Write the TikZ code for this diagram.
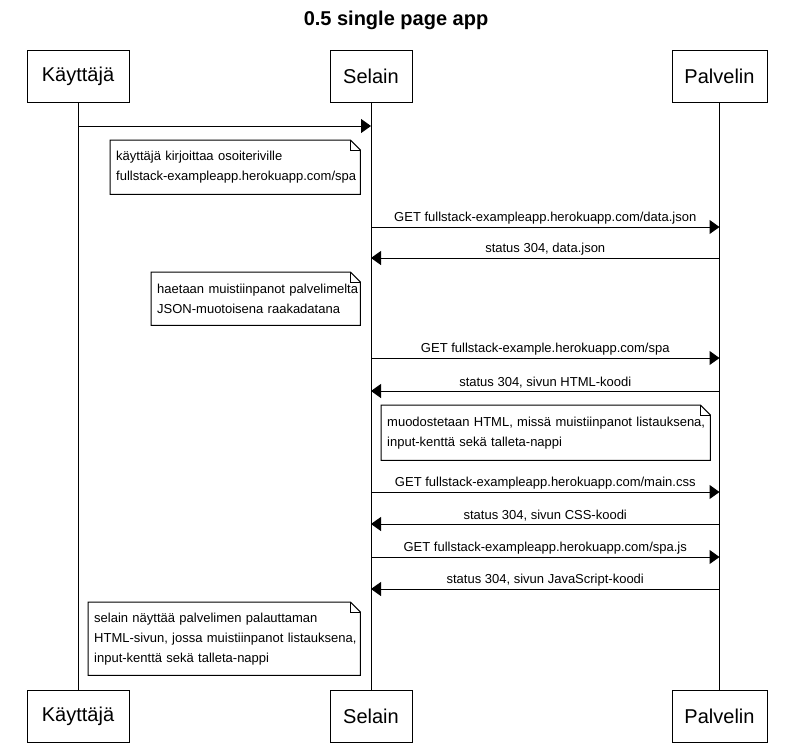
\documentclass[tikz,border=0pt]{standalone}
\usepackage{fontspec}
\setmainfont{Liberation Sans}
\usetikzlibrary{arrows.meta,positioning}

\begin{document}
\begin{tikzpicture}[
  x=1pt, y=-1pt,
  actor/.style={draw, line width=1pt, minimum height=52pt, inner sep=0pt, font=\fontsize{20}{24}\selectfont},
  note/.style={anchor=north west, align=left, inner xsep=6pt, inner ysep=0pt, font=\fontsize{13}{20}\selectfont},
  fold/.style={line width=1pt},
  msg/.style={-{Triangle[length=10pt,width=14pt]}, line width=1pt},
  lbl/.style={midway, above, inner sep=2pt, font=\fontsize{13}{15}\selectfont},
  life/.style={line width=1pt}
]
\useasboundingbox (0,0) rectangle (792,748);

\node[font=\bfseries\fontsize{20}{24}\selectfont] (title) at (396,20) {0.5 single page app};

% actors
\node[actor, minimum width=102pt] (kt) at (78,76) {Käyttäjä};
\node[actor, minimum width=82pt] (st) at (371,76) {Selain};
\node[actor, minimum width=95pt] (pt) at (719.5,76) {Palvelin};
\node[actor, minimum width=102pt] (kb) at (78,716) {Käyttäjä};
\node[actor, minimum width=82pt] (sb) at (371,716) {Selain};
\node[actor, minimum width=95pt] (pb) at (719.5,716) {Palvelin};

\draw[life] (kt) -- (kb);
\draw[life] (st) -- (sb);
\draw[life] (pt) -- (pb);

% notes
\node[note, text width=238pt, minimum height=54pt] (n1) at (110,140)
  {\mbox{käyttäjä kirjoittaa osoiteriville}\\\mbox{fullstack-exampleapp.herokuapp.com/spa}};
\node[note, text width=197pt, minimum height=53pt] (n2) at (151,272)
  {\mbox{haetaan muistiinpanot palvelimelta}\\\mbox{JSON-muotoisena raakadatana}};
\node[note, text width=317pt, minimum height=55pt] (n3) at (381,405)
  {\mbox{muodostetaan HTML, missä muistiinpanot listauksena,}\\\mbox{input-kenttä sekä talleta-nappi}};
\node[note, text width=260pt, minimum height=73pt] (n4) at (88,602)
  {\mbox{selain näyttää palvelimen palauttaman}\\\mbox{HTML-sivun, jossa muistiinpanot listauksena,}\\\mbox{input-kenttä sekä talleta-nappi}};

\foreach \n in {n1,n2,n3,n4} {
  \draw[fold] (\n.north west) -- ([xshift=-10pt]\n.north east) -- ([yshift=-10pt]\n.north east)
    -- (\n.south east) -- (\n.south west) -- cycle;
  \draw[fold] ([xshift=-10pt]\n.north east) -- ([xshift=-10pt,yshift=-10pt]\n.north east)
    -- ([yshift=-10pt]\n.north east);
}

% messages
\draw[msg] (kt |- 0,126) -- (st |- 0,126);
\draw[msg] (st |- 0,227) -- (pt |- 0,227) node[lbl] {GET fullstack-exampleapp.herokuapp.com/data.json};
\draw[msg] (pt |- 0,258) -- (st |- 0,258) node[lbl] {status 304, data.json};
\draw[msg] (st |- 0,358) -- (pt |- 0,358) node[lbl] {GET fullstack-example.herokuapp.com/spa};
\draw[msg] (pt |- 0,391) -- (st |- 0,391) node[lbl] {status 304, sivun HTML-koodi};
\draw[msg] (st |- 0,492) -- (pt |- 0,492) node[lbl] {GET fullstack-exampleapp.herokuapp.com/main.css};
\draw[msg] (pt |- 0,524) -- (st |- 0,524) node[lbl] {status 304, sivun CSS-koodi};
\draw[msg] (st |- 0,557) -- (pt |- 0,557) node[lbl] {GET fullstack-exampleapp.herokuapp.com/spa.js};
\draw[msg] (pt |- 0,589) -- (st |- 0,589) node[lbl] {status 304, sivun JavaScript-koodi};
\end{tikzpicture}
\end{document}
